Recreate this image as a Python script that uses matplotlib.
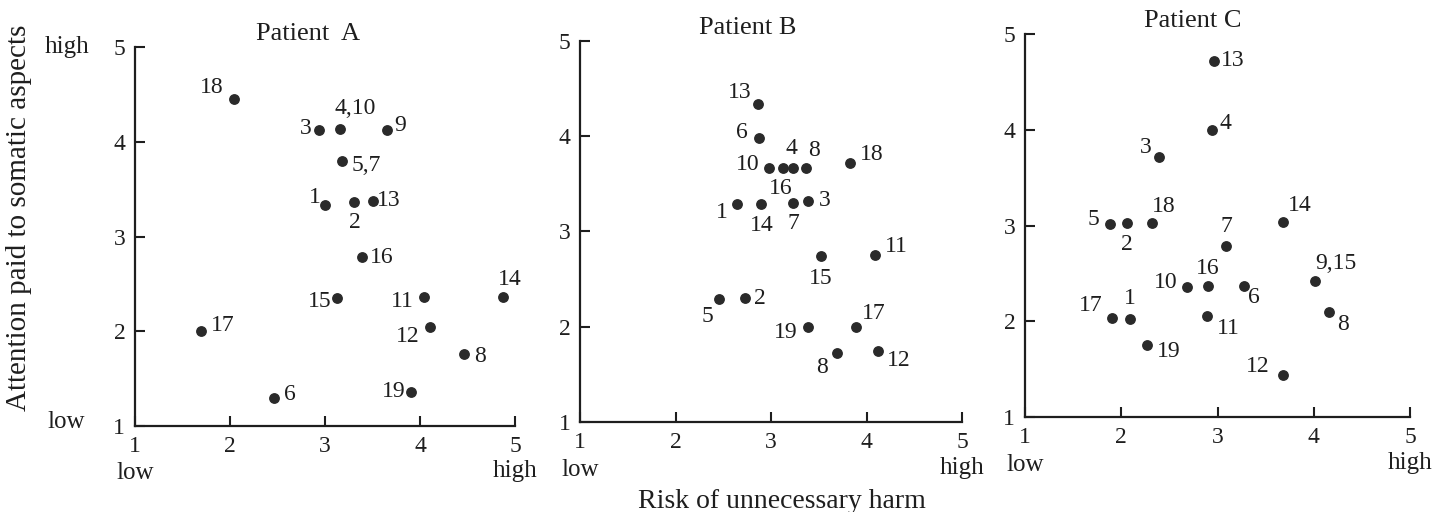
import matplotlib
matplotlib.use("Agg")
import matplotlib.pyplot as plt

plt.rcParams['font.family'] = ['Liberation Serif', 'DejaVu Serif']

# ---- data ----
ticks = [1, 2, 3, 4, 5]

a_labels = ["18", "4,10", "3", "9", "5,7", "1", "2", "13", "16", "15", "11", "14", "17", "12", "8", "6", "19"]
a_risk = [2.04, 3.16, 2.94, 3.65, 3.18, 3.00, 3.31, 3.50, 3.39, 3.13, 4.04, 4.87, 1.69, 4.11, 4.46, 2.46, 3.91]
a_attn = [4.45, 4.14, 4.13, 4.13, 3.80, 3.33, 3.36, 3.37, 2.78, 2.35, 2.36, 2.36, 2.00, 2.04, 1.76, 1.30, 1.36]

b_labels = ["13", "6", "10", "16", "4", "8", "18", "1", "14", "7", "3", "15", "11", "5", "2", "19", "17", "8", "12"]
b_risk = [2.86, 2.87, 2.98, 3.12, 3.23, 3.37, 3.83, 2.64, 2.90, 3.23, 3.39, 3.52, 4.09, 2.46, 2.73, 3.39, 3.89, 3.69, 4.12]
b_attn = [4.34, 3.98, 3.67, 3.67, 3.67, 3.67, 3.72, 3.29, 3.29, 3.30, 3.32, 2.74, 2.75, 2.29, 2.30, 2.00, 2.00, 1.72, 1.74]

c_labels = ["13", "4", "3", "5", "2", "18", "7", "14", "9,15", "10", "16", "6", "17", "1", "11", "8", "19", "12"]
c_risk = [2.96, 2.94, 2.39, 1.88, 2.06, 2.32, 3.09, 3.68, 4.01, 2.68, 2.90, 3.27, 1.90, 2.09, 2.89, 4.16, 2.27, 3.68]
c_attn = [4.72, 4.00, 3.72, 3.02, 3.03, 3.03, 2.79, 3.04, 2.42, 2.36, 2.37, 2.37, 2.03, 2.02, 2.06, 2.10, 1.75, 1.44]

# label offsets from the dot, in points
a_off = [(-15, 8), (10, 14), (-9, 1), (9, 3), (16, -3), (-7, 5), (0, -14), (11, 1), (13, 0),
         (-12, -2), (-14, -3), (5, 12), (15, 4), (-15, -6), (11, -2), (11, 2), (-12, 0)]
b_off = [(-12, 8), (-11, 4), (-14, 2), (-1, -14), (-1, 13), (5, 12), (14, 6), (-10, -6), (0, -15),
         (0, -14), (11, 0), (0, -15), (14, 6), (-8, -12), (10, 0), (-15, -4), (12, 9), (-10, -10), (14, -6)]
c_off = [(13, 0), (9, 4), (-9, 6), (-11, 3), (0, -15), (8, 11), (0, 13), (11, 11), (14, 12),
         (-14, 3), (0, 12), (7, -8), (-14, 9), (0, 14), (14, -9), (9, -9), (14, -4), (-17, 6)]

panels = [
    ("Patient  A", a_risk, a_attn, a_labels, a_off, [0.09375, 0.168, 0.2639, 0.740], 0.455),
    ("Patient B", b_risk, b_attn, b_labels, b_off, [0.4028, 0.176, 0.2653, 0.744], 0.44),
    ("Patient C", c_risk, c_attn, c_labels, c_off, [0.7118, 0.1855, 0.2674, 0.748], 0.436),
]

ink = "#1e1e1e"
fig = plt.figure(figsize=(14.4, 5.12), dpi=100)

axes = []
for title, xs, ys, labs, offs, rect, tx in panels:
    ax = fig.add_axes(rect)
    ax.scatter(xs, ys, s=46, color="#2a2a2a", zorder=3, clip_on=False)
    for x, y, lab, (dx, dy) in zip(xs, ys, labs, offs):
        ax.annotate(lab, (x, y), xytext=(dx * 1.08, dy * 1.05), textcoords="offset points",
                    ha="center", va="center", fontsize=17, color=ink)
    ax.set_xlim(1, 5)
    ax.set_ylim(1, 5)
    ax.set_xticks(ticks)
    ax.set_yticks(ticks)
    for s in ["top", "right"]:
        ax.spines[s].set_visible(False)
    for s in ["left", "bottom"]:
        ax.spines[s].set_linewidth(1.6)
        ax.spines[s].set_color(ink)
    ax.tick_params(direction="in", length=7, width=1.5, labelsize=17, colors=ink, pad=7)
    ax.text(tx, 1.035, title, transform=ax.transAxes, ha="center", va="center",
            fontsize=19, color=ink)
    # low / high under the x-axis
    ax.text(0.0, -0.125, "low", transform=ax.transAxes, ha="center", va="center",
            fontsize=18, color=ink)
    ax.text(1.0, -0.12, "high", transform=ax.transAxes, ha="center", va="center",
            fontsize=18, color=ink)
    axes.append(ax)

# low / high beside the first y-axis
axes[0].text(-0.18, 1.0, "high", transform=axes[0].transAxes, ha="center", va="center",
             fontsize=18, color=ink)
axes[0].text(-0.18, 0.01, "low", transform=axes[0].transAxes, ha="center", va="center",
             fontsize=18, color=ink)

fig.text(0.0135, 0.574, "Attention paid to somatic aspects", rotation=90,
         ha="center", va="center", fontsize=21, color=ink)
fig.text(0.543, 0.02, "Risk of unnecessary harm", ha="center", va="center",
         fontsize=20, color=ink)

fig.savefig("out.png", dpi=100, facecolor="white")
